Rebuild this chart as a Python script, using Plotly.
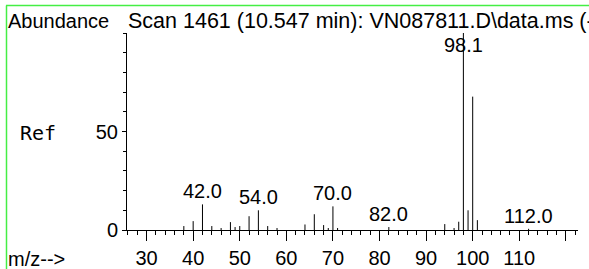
import plotly.graph_objects as go

# ---- data ----
mz = [38, 40, 42, 44, 46, 48, 49, 50, 52, 54, 56, 58, 64, 66, 68, 69, 70, 71,
      82, 94, 96, 97, 98, 99, 100, 101, 112]
abund = [2, 4.5, 13, 2, 1, 4, 1.5, 2, 7, 10, 2, 1, 2.8, 8, 2.5, 1, 12, 1,
         1.5, 3, 1, 4.2, 100, 10, 67.7, 5, 0.6]
label_mz = [42, 54, 70, 82, 98, 112]
label_text = ["42.0", "54.0", "70.0", "82.0", "98.1", "112.0"]
x_tick_vals = [30, 40, 50, 60, 70, 80, 90, 100, 110, 120]
x_tick_text = ["30", "40", "50", "60", "70", "80", "90", "100", "110", ""]
y_tick_vals = [0, 50]
title_text = "Scan 1461 (10.547 min): VN087811.D\\data.ms (-"

# ---- layout geometry ----
W, H = 589, 269
ML, MR, MT, MB = 127, 11, 33, 39
PW = W - ML - MR
PH = H - MT - MB


def px(xp):
    return (xp - ML) / PW


def py(yp):
    return (H - MB - yp) / PH


xs, ys = [], []
for m, a in zip(mz, abund):
    xs += [m, m, None]
    ys += [0, a, None]

fig = go.Figure()
fig.add_trace(go.Scatter(x=xs, y=ys, mode="lines",
                         line=dict(color="black", width=1),
                         hoverinfo="skip", showlegend=False))

ab = dict(zip(mz, abund))
annotations = []
for m, t in zip(label_mz, label_text):
    annotations.append(dict(x=m, y=min(ab.get(m, 0), 87.5), xref="x", yref="y",
                            text=t, showarrow=False, xanchor="center",
                            yanchor="bottom", yshift=0,
                            font=dict(size=20, color="black",
                                      family="Liberation Sans")))

txt_font = dict(size=20, color="black", family="Liberation Sans")
annotations += [
    dict(x=px(6), y=py(21), xref="paper", yref="paper", text="Abundance",
         showarrow=False, xanchor="left", yanchor="middle", font=txt_font),
    dict(x=px(126), y=py(21), xref="paper", yref="paper", text=title_text,
         showarrow=False, xanchor="left", yanchor="middle",
         font=dict(size=21.5, color="black", family="Liberation Sans")),
    dict(x=px(18), y=py(133), xref="paper", yref="paper", text="Ref",
         showarrow=False, xanchor="left", yanchor="middle",
         font=dict(size=20, color="black", family="DejaVu Sans Mono")),
    dict(x=px(6), y=py(259), xref="paper", yref="paper", text="m/z-->",
         showarrow=False, xanchor="left", yanchor="middle", font=txt_font),
]

green = "#44ee44"
shapes = [
    dict(type="line", xref="paper", yref="paper", x0=px(6), x1=px(589),
         y0=py(5.5), y1=py(5.5), line=dict(color=green, width=1.5)),
    dict(type="line", xref="paper", yref="paper", x0=px(6.5), x1=px(6.5),
         y0=py(5.5), y1=py(269), line=dict(color=green, width=1.5)),
]

fig.update_layout(
    template="none",
    width=W, height=H, autosize=False,
    margin=dict(l=ML, r=MR, t=MT, b=MB, pad=0, autoexpand=False),
    paper_bgcolor="white", plot_bgcolor="white",
    annotations=annotations, shapes=shapes, showlegend=False,
    font=dict(family="Liberation Sans", size=20, color="black"),
    xaxis=dict(range=[25.8, 122.6], tickmode="array", tickvals=x_tick_vals,
               ticktext=x_tick_text, ticks="outside", ticklen=10,
               tickcolor="black", tickwidth=1, showline=True, automargin=False,
               linecolor="black", linewidth=1, showgrid=False, zeroline=False,
               tickfont=dict(size=20, family="Liberation Sans"),
               minor=dict(dtick=2, tick0=0, ticks="outside", ticklen=4,
                          tickcolor="black", showgrid=False)),
    yaxis=dict(range=[0, 100], tickmode="array", tickvals=y_tick_vals,
               ticks="outside", ticklen=4, tickcolor="black", showline=True,
               automargin=False,
               linecolor="black", linewidth=1, showgrid=False, zeroline=False,
               tickfont=dict(size=20, family="Liberation Sans"),
               minor=dict(dtick=10, tick0=0, ticks="outside", ticklen=3,
                          tickcolor="black", showgrid=False)),
)

fig.write_html("out.html",
               config={"displayModeBar": False},
               post_script="document.documentElement.style.overflow='hidden';"
                           "document.body.style.margin='0';"
                           "document.body.style.overflow='hidden';")
